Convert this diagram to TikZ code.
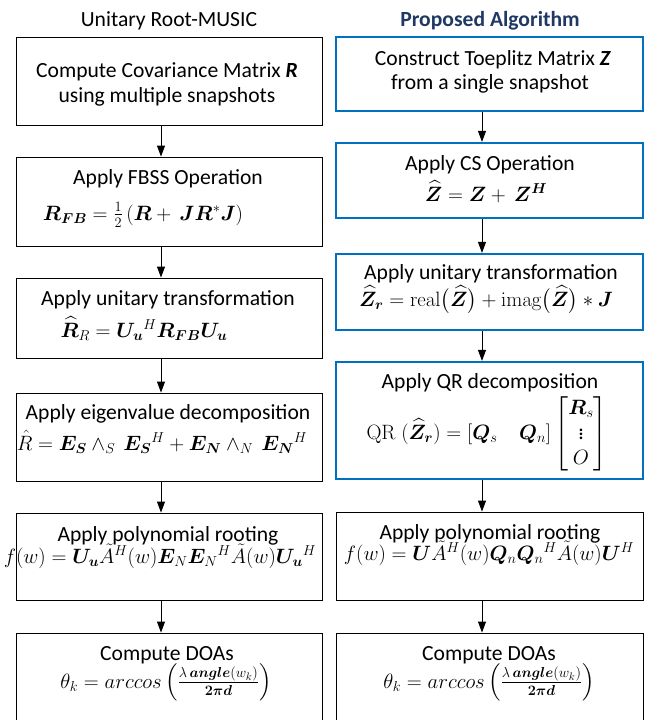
\documentclass[tikz,border=0pt]{standalone}
\usepackage{amsmath}
\usepackage{bm}
\usepackage[no-math]{fontspec}
\setmainfont{Carlito}
\usetikzlibrary{arrows.meta}
\definecolor{bleuboite}{HTML}{0070C0}
\definecolor{bleutitre}{HTML}{1F3864}
\begin{document}
\begin{tikzpicture}[x=1pt,y=-1pt]
	\tikzset{boite/.style={draw=black, line width=0.9pt, inner sep=0pt},
	boitebleue/.style={boite, draw=bleuboite, line width=2.2pt},
	texte/.style={anchor=base, inner sep=0pt, font=\fontsize{21.6}{25}\selectfont},
	fleche/.style={-{Triangle[length=11pt,width=8pt]}, line width=0.9pt}};
	\useasboundingbox (0,0) rectangle (647,720);

	\node[texte] (titreG) at (169,27) {Unitary Root-MUSIC};
	\node[texte, font=\fontsize{21.6}{25}\selectfont\bfseries, text=bleutitre] (titreD) at (490,27) {Proposed Algorithm};

	% les boites
	\foreach \n/\haut/\bas in {1/37/125, 2/157/246, 3/278/358, 4/393/481, 5/513/600, 6/633/740}{
		\node[boite, minimum width=306pt, minimum height={(\bas-\haut)*1pt}] (g\n) at (169,{(\haut+\bas)/2}) {};
	}
	\foreach \n/\haut/\bas/\sty in {1/37/111/boitebleue, 2/143/218/boitebleue, 3/254/330/boitebleue,
		4/362/479/boitebleue, 5/512/600/boite, 6/633/740/boite}{
		\node[\sty, minimum width=307pt, minimum height={(\bas-\haut)*1pt}] (d\n) at (489.5,{(\haut+\bas)/2}) {};
	}

	% colonne de gauche
	\node[texte] (g1a) at (167,77) {Compute Covariance Matrix \textbf{\textit{R}}};
	\node[texte] (g1b) at (167,102) {using multiple snapshots};
	\node[texte] (g2a) at (168,184) {Apply FBSS Operation};
	\node[texte] (g2b) at (143,220) {$\bm{R}_{\bm{FB}} = \tfrac{1}{2}\,(\bm{R} + \,\bm{J}\bm{R}^{*}\bm{J})$};
	\node[texte] (g3a) at (168,305) {Apply unitary transformation};
	\node[texte] (g3b) at (144,337) {$\widehat{\bm{R}}_R = \bm{U_u}{}^H\bm{R}_{\bm{FB}}\bm{U_u}$};
	\node[texte] (g4a) at (168,419) {Apply eigenvalue decomposition};
	\node[texte] (g4b) at (162,450) {$\hat{R} = \bm{E_S}\wedge_S\,\bm{E_S}{}^H + \bm{E_N}\wedge_N\,\bm{E_N}{}^H$};
	\node[texte] (g5a) at (168,541) {Apply polynomial rooting};
	\node[texte] (g5b) at (160,563) {$f(w) = \bm{U_u}\tilde{A}^H(w)\bm{E}_N\bm{E}_N{}^H\tilde{A}(w)\bm{U_u}{}^H$};
	\node[texte] (g6a) at (167,660) {Compute DOAs};
	\node[texte] (g6b) at (166,688) {$\theta_k = arccos\left(\tfrac{\lambda\,\bm{angle}(w_k)}{\bm{2\pi d}}\right)$};

	% colonne de droite
	\node[texte] (d1a) at (493,65) {Construct Toeplitz Matrix \textbf{\textit{Z}}};
	\node[texte] (d1b) at (490,89) {from a single snapshot};
	\node[texte] (d2a) at (490,170) {Apply CS Operation};
	\node[texte] (d2b) at (486,201) {$\widehat{\bm{Z}} = \bm{Z} + \,\bm{Z}^{\bm{H}}$};
	\node[texte] (d3a) at (491,279) {Apply unitary transformation};
	\node[texte] (d3b) at (486,306) {$\widehat{\bm{Z}}_{\bm{r}} = \mathrm{real}\bigl(\widehat{\bm{Z}}\bigr) + \mathrm{imag}\bigl(\widehat{\bm{Z}}\bigr) \ast \bm{J}$};
	\node[texte] (d4a) at (490,388) {Apply QR decomposition};
	\node[texte, anchor=center] (d4b) at (487,434) {$\mathrm{QR}\;(\widehat{\bm{Z}}_{\bm{r}}) = [\bm{Q}_s\quad \bm{Q}_n]\begin{bmatrix}\bm{R}_s\\ \vdots\\ O\end{bmatrix}$};
	\node[texte] (d5a) at (490,539) {Apply polynomial rooting};
	\node[texte] (d5b) at (489,560) {$f(w) = \bm{U}\tilde{A}^H(w)\bm{Q}_n\bm{Q}_n{}^H\tilde{A}(w)\bm{U}^H$};
	\node[texte] (d6a) at (489,660) {Compute DOAs};
	\node[texte] (d6b) at (489,688) {$\theta_k = arccos\left(\tfrac{\lambda\,\bm{angle}(w_k)}{\bm{2\pi d}}\right)$};

	% les fleches
	\foreach \a/\b in {1/2, 2/3, 3/4, 4/5, 5/6}{
		\draw[fleche] ([xshift=-8pt]g\a.south) -- ([xshift=-8pt]g\b.north);
		\draw[fleche] ([xshift=-7.5pt]d\a.south) -- ([xshift=-7.5pt]d\b.north);
	}
\end{tikzpicture}
\end{document}
